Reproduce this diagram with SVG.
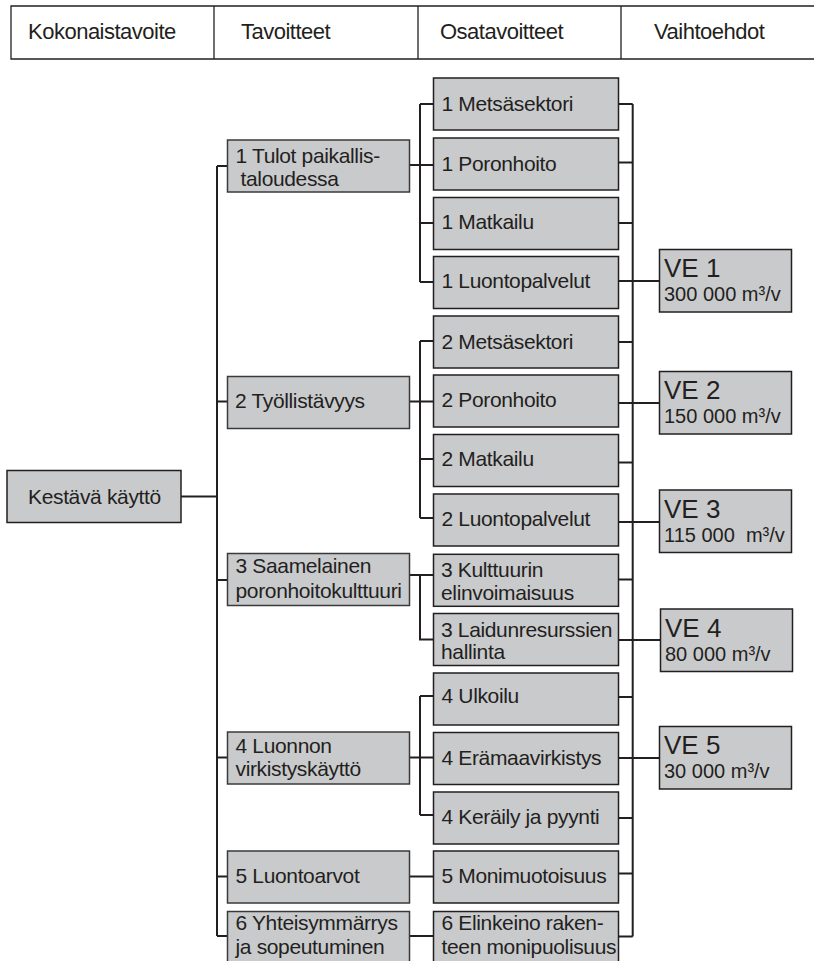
<svg xmlns="http://www.w3.org/2000/svg" width="814" height="961" viewBox="0 0 814 961">
<style>
text{font-family:"Liberation Sans",Arial,Helvetica,sans-serif;fill:#231f20;}
.h{font-size:22px;letter-spacing:-0.5px;}
.t{font-size:21px;letter-spacing:-0.35px;}
.ve{font-size:26px;}
.v2{font-size:20px;}
.box{fill:#c9cacc;stroke:#231f20;stroke-width:1.5;}
.tbox{fill:#c9cacc;stroke:#3a3a3a;stroke-width:1.5;}
.hd{fill:none;stroke:#231f20;stroke-width:1.3;}
.c{fill:none;stroke:#231f20;stroke-width:2;}
</style>
<rect width="814" height="961" fill="#ffffff"/>
<g id="header">
<path class="hd" d="M814 6H11V59H814M214 6V59M418 6V59M621 6V59"/>
<text class="h" x="28" y="38.5">Kokonaistavoite</text>
<text class="h" x="241" y="38.5">Tavoitteet</text>
<text class="h" x="440" y="38.5">Osatavoitteet</text>
<text class="h" x="654" y="38.5">Vaihtoehdot</text>
</g>
<g id="connectors">
<path class="c" d="M181 496.5H217M217 166V936"/>
<path class="c" d="M217 166H227.5M217 401.5H227.5M217 580H227.5M217 757.5H227.5M217 876.5H227.5M217 936H227.5"/>
<path class="c" d="M409.5 165H433.5M420 104V282M420 104H433.5M420 223H433.5M420 282H433.5"/>
<path class="c" d="M409.5 401.5H433.5M420 341V518M420 341H433.5M420 459H433.5M420 518H433.5"/>
<path class="c" d="M409.5 575H433.5M420 575V639.5H433.5"/>
<path class="c" d="M409.5 757.5H433.5M420 696V815M420 696H433.5M420 815H433.5"/>
<path class="c" d="M409.5 876.5H433.5M409.5 936H433.5"/>
<path class="c" d="M632.7 104V936.5"/>
<path class="c" d="M618.5 104H632.7M618.5 162.5H632.7M618.5 223H632.7M618.5 281H659.5M618.5 342H632.7M618.5 403H659.5M618.5 462.5H632.7M618.5 522H659.5M618.5 579.5H632.7M618.5 640H660.5M618.5 697H632.7M618.5 758H659.5M618.5 818H632.7M618.5 873.5H632.7M618.5 936.5H632.7"/>
</g>
<g id="n-kestava"><rect class="box" x="7" y="470.5" width="174" height="52"/><text class="t" x="28" y="504">Kestävä käyttö</text></g>
<g id="t1"><rect class="tbox" x="227.5" y="140" width="182" height="52"/><text class="t" x="235.5" y="162.5">1 Tulot paikallis-</text><text class="t" x="240.5" y="186">taloudessa</text></g>
<g id="t2"><rect class="tbox" x="227.5" y="376.5" width="182" height="52"/><text class="t" x="235" y="408">2 Työllistävyys</text></g>
<g id="t3"><rect class="tbox" x="227.5" y="553.5" width="182" height="52"/><text class="t" x="235.5" y="573">3 Saamelainen</text><text class="t" x="235.5" y="597.5">poronhoitokulttuuri</text></g>
<g id="t4"><rect class="tbox" x="227.5" y="732" width="182" height="52"/><text class="t" x="235.5" y="752.5">4 Luonnon</text><text class="t" x="235.5" y="775.5">virkistyskäyttö</text></g>
<g id="t5"><rect class="tbox" x="227.5" y="851" width="182" height="52"/><text class="t" x="235.5" y="882.5">5 Luontoarvot</text></g>
<g id="t6"><rect class="tbox" x="227.5" y="911.5" width="182" height="52"/><text class="t" x="235.5" y="929.5">6 Yhteisymmärrys</text><text class="t" x="235.5" y="953.5">ja sopeutuminen</text></g>
<g id="o1"><rect class="box" x="433.5" y="78" width="185" height="52"/><text class="t" x="441.5" y="110.5">1 Metsäsektori</text></g>
<g id="o2"><rect class="box" x="433.5" y="138" width="185" height="52"/><text class="t" x="441.5" y="170.5">1 Poronhoito</text></g>
<g id="o3"><rect class="box" x="433.5" y="197.5" width="185" height="52"/><text class="t" x="441.5" y="229">1 Matkailu</text></g>
<g id="o4"><rect class="box" x="433.5" y="256.5" width="185" height="52"/><text class="t" x="441.5" y="288">1 Luontopalvelut</text></g>
<g id="o5"><rect class="box" x="433.5" y="316" width="185" height="52"/><text class="t" x="441.5" y="349">2 Metsäsektori</text></g>
<g id="o6"><rect class="box" x="433.5" y="375" width="185" height="52"/><text class="t" x="441.5" y="407">2 Poronhoito</text></g>
<g id="o7"><rect class="box" x="433.5" y="434.5" width="185" height="52"/><text class="t" x="441.5" y="466">2 Matkailu</text></g>
<g id="o8"><rect class="box" x="433.5" y="494" width="185" height="52"/><text class="t" x="441.5" y="526">2 Luontopalvelut</text></g>
<g id="o9"><rect class="box" x="433.5" y="554.3" width="185" height="52"/><text class="t" x="441" y="576.7">3 Kulttuurin</text><text class="t" x="441" y="600">elinvoimaisuus</text></g>
<g id="o10"><rect class="box" x="433.5" y="613.5" width="185" height="52"/><text class="t" x="441" y="636.7">3 Laidunresurssien</text><text class="t" x="441" y="658.5">hallinta</text></g>
<g id="o11"><rect class="box" x="433.5" y="673" width="185" height="52"/><text class="t" x="441.5" y="703">4 Ulkoilu</text></g>
<g id="o12"><rect class="box" x="433.5" y="732.5" width="185" height="52"/><text class="t" x="441.5" y="765">4 Erämaavirkistys</text></g>
<g id="o13"><rect class="box" x="433.5" y="792" width="185" height="52"/><text class="t" x="441.5" y="824">4 Keräily ja pyynti</text></g>
<g id="o14"><rect class="box" x="433.5" y="851" width="185" height="52"/><text class="t" x="441.5" y="883">5 Monimuotoisuus</text></g>
<g id="o15"><rect class="box" x="433.5" y="911.5" width="185" height="52"/><text class="t" x="441.5" y="930">6 Elinkeino raken-</text><text class="t" x="441.5" y="953.5">teen monipuolisuus</text></g>
<g id="ve1"><rect class="box" x="659.5" y="249.5" width="132" height="62.5"/><text class="ve" x="664" y="277">VE 1</text><text class="v2" x="664" y="301">300 000 m³/v</text></g>
<g id="ve2"><rect class="box" x="659.5" y="371.5" width="132" height="62.5"/><text class="ve" x="664" y="399">VE 2</text><text class="v2" x="664" y="423">150 000 m³/v</text></g>
<g id="ve3"><rect class="box" x="659.5" y="490" width="132" height="62.5"/><text class="ve" x="664" y="517.5">VE 3</text><text class="v2" x="664" y="541.5" xml:space="preserve">115 000  m³/v</text></g>
<g id="ve4"><rect class="box" x="660.5" y="609" width="132" height="62.5"/><text class="ve" x="665" y="636.5">VE 4</text><text class="v2" x="665" y="660.5">80 000 m³/v</text></g>
<g id="ve5"><rect class="box" x="659.5" y="726.5" width="132" height="62.5"/><text class="ve" x="664" y="754">VE 5</text><text class="v2" x="664" y="778">30 000 m³/v</text></g>
</svg>
